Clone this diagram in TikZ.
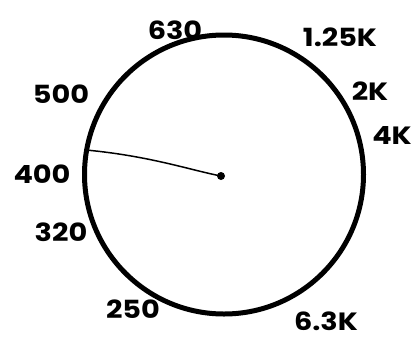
\documentclass[tikz,border=0pt]{standalone}
\usepackage{fontspec}
\setmainfont{Poppins}
\begin{document}
\begin{tikzpicture}[x=1pt,y=-1pt,
  lbl/.style={font=\fontsize{25}{25}\selectfont\bfseries, inner sep=0pt, anchor=center, xscale=1.15, transform shape},
  rim/.style={draw=black, line width=5pt, circle, inner sep=0pt, minimum size=279pt},
  hubdot/.style={fill=black, circle, inner sep=0pt, minimum size=8pt}]
\useasboundingbox (0,0) rectangle (420,341);
\node[rim] (dial) at (224,174.5) {};
\node[hubdot] (hub) at (221,176) {};
\coordinate (tip) at (86,150);
\draw[line width=1.5pt] (tip) .. controls (150,156) and (190,170) .. (hub.center);
\node[lbl] (l630) at (175,30) {630};
\node[lbl] (l125) at (340,37) {1.25K};
\node[lbl] (l2k) at (370,91) {2K};
\node[lbl] (l4k) at (392,135) {4K};
\node[lbl] (l500) at (61,94) {500};
\node[lbl] (l400) at (42,174) {400};
\node[lbl] (l320) at (61,232) {320};
\node[lbl] (l250) at (133,309) {250};
\node[lbl] (l63k) at (326,321) {6.3K};
\end{tikzpicture}
\end{document}
